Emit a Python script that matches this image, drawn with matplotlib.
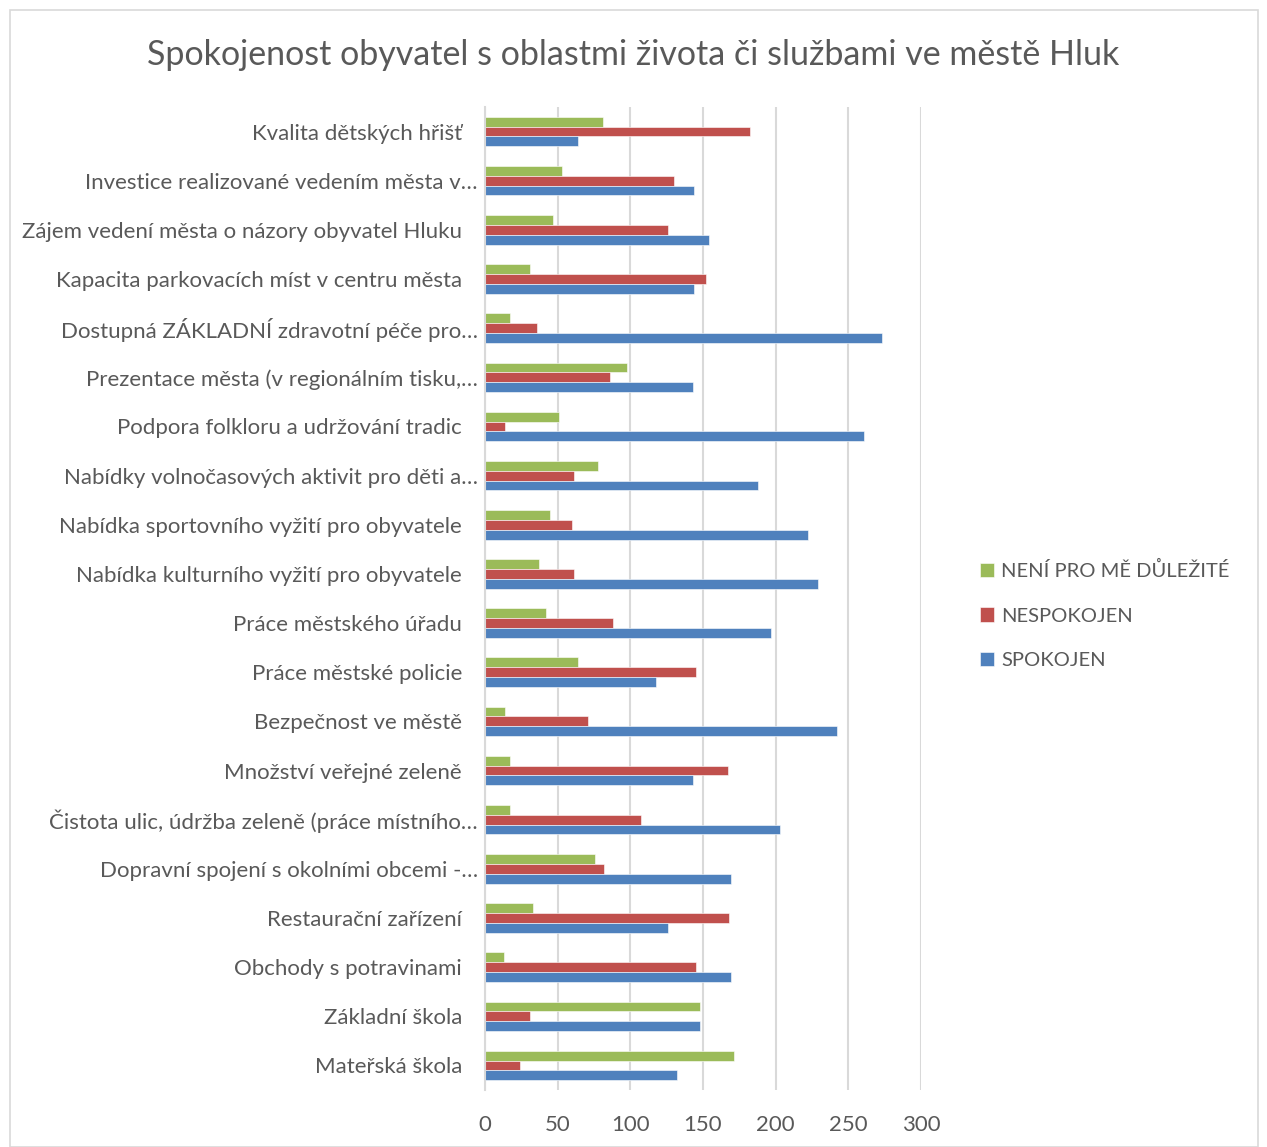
import numpy as np
import matplotlib.pyplot as plt
import matplotlib.transforms as mtransforms
from matplotlib.patches import Rectangle

# kategorie shora dolu (jak v grafu)
kategorie = [
    "Kvalita dětských hřišť",
    "Investice realizované vedením města v…",
    "Zájem vedení města o názory obyvatel Hluku",
    "Kapacita parkovacích míst v centru města",
    "Dostupná ZÁKLADNÍ zdravotní péče pro…",
    "Prezentace města (v regionálním tisku,…",
    "Podpora folkloru a udržování tradic",
    "Nabídky volnočasových aktivit pro děti a…",
    "Nabídka sportovního vyžití pro obyvatele",
    "Nabídka kulturního vyžití pro obyvatele",
    "Práce městského úřadu",
    "Práce městské policie",
    "Bezpečnost ve městě",
    "Množství veřejné zeleně",
    "Čistota ulic, údržba zeleně (práce místního…",
    "Dopravní spojení s okolními obcemi -…",
    "Restaurační zařízení",
    "Obchody s potravinami",
    "Základní škola",
    "Mateřská škola",
]

neni_dulezite = [81, 53, 47, 31, 17, 98, 51, 78, 45, 37, 42, 64, 14, 17, 17, 76, 33, 13, 148, 171]
nespokojen = [182, 130, 126, 152, 36, 86, 14, 61, 60, 61, 88, 145, 71, 167, 107, 82, 168, 145, 31, 24]
spokojen = [64, 144, 154, 144, 273, 143, 261, 188, 222, 229, 197, 118, 242, 143, 203, 169, 126, 169, 148, 132]

serie = ["NENÍ PRO MĚ DŮLEŽITÉ", "NESPOKOJEN", "SPOKOJEN"]
barvy = ["#9BBB59", "#C0504D", "#4F81BD"]
x_ticks = [0, 50, 100, 150, 200, 250, 300]

plt.rcParams['font.family'] = ['Lato', 'DejaVu Sans']
text_barva = "#595959"

fig = plt.figure(figsize=(12.67, 11.47), dpi=100)
fig.patches.append(Rectangle((10 / 1267, 0), 1248 / 1267, 1137 / 1147,
                             transform=fig.transFigure, fill=False,
                             edgecolor="#D9D9D9", linewidth=1.2))

ax = fig.add_axes([485 / 1267, 1 - 1090 / 1147, 436 / 1267, (1090 - 107) / 1147])

n = len(kategorie)
y = np.arange(n)[::-1]
h = 0.2
for vals, off, barva, nazev in zip([neni_dulezite, nespokojen, spokojen],
                                   [h, 0, -h], barvy, serie):
    ax.barh(y + off, vals, height=h, color=barva, label=nazev,
            edgecolor="white", linewidth=0.4)

ax.set_xlim(0, 300)
ax.set_ylim(-0.5, n - 0.5)
ax.set_xticks(x_ticks)
ax.set_yticks(y)
ax.set_yticklabels([])
ax.tick_params(axis='both', length=0, labelsize=16, colors=text_barva)
ax.tick_params(axis='x', pad=18)
ax.grid(axis='x', color="#D9D9D9", linewidth=1.5)
ax.set_axisbelow(True)
for s in ['top', 'right', 'bottom']:
    ax.spines[s].set_visible(False)
ax.spines['left'].set_color("#D9D9D9")
ax.spines['left'].set_linewidth(1.5)

# popisky kategorii - zkracene (Excel "…") sahaji bliz k ose
tr = ax.get_yaxis_transform()
for yy, lab in zip(y, kategorie):
    odsazeni = -7 if lab.endswith("…") else -23
    t = mtransforms.offset_copy(tr, fig=fig, x=odsazeni, y=-2, units='dots')
    ax.text(0, yy, lab, transform=t, ha='right', va='center',
            fontsize=16, color=text_barva)

fig.text(633 / 1267, 1 - 55 / 1147,
         "Spokojenost obyvatel s oblastmi života či službami ve městě Hluk",
         ha='center', va='center', fontsize=24.5, color=text_barva)

ax.legend(loc='center left', bbox_to_anchor=(962 / 1267, 1 - 615 / 1147),
          bbox_transform=fig.transFigure, frameon=False, fontsize=14.5,
          labelcolor=text_barva, handlelength=0.7, handleheight=0.7,
          handletextpad=0.35, labelspacing=1.35)

fig.savefig("out.png", dpi=100)
